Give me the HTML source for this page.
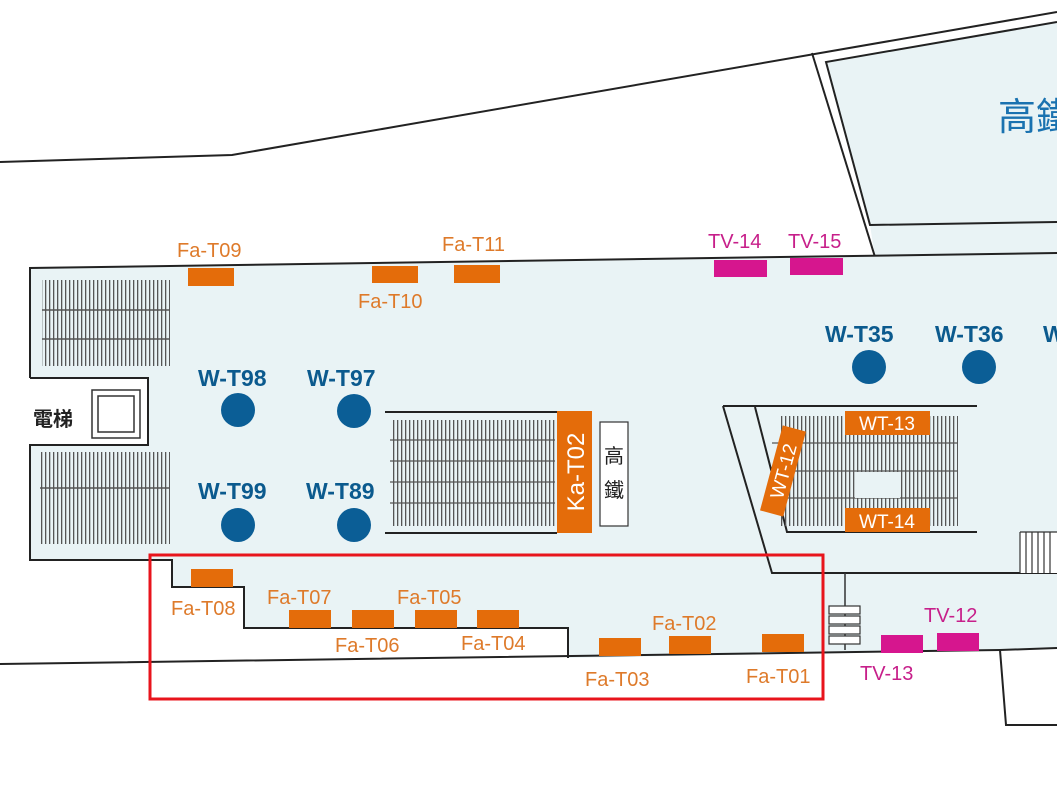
<!DOCTYPE html>
<html><head><meta charset="utf-8"><style>
html,body{margin:0;padding:0;background:#fff;}
svg{display:block;}
text{font-family:"Liberation Sans","Noto Sans CJK TC",sans-serif;}
.o{fill:#e46c0a;} .m{fill:#d6168e;}
.lo{fill:#de7a2a;font-size:20px;} .lm{fill:#c71f8a;font-size:20px;}
.wb{fill:#0b5a8e;font-size:23px;font-weight:bold;}
.ln{stroke:#222;stroke-width:2;fill:none;}
</style></head><body>
<svg width="1057" height="793" viewBox="0 0 1057 793" xmlns="http://www.w3.org/2000/svg">
<defs>
<pattern id="h" width="4" height="200" patternUnits="userSpaceOnUse">
<rect x="1" width="1.3" height="200" fill="#555"/>
</pattern>
</defs>
<!-- building top right -->
<polygon points="826,62 1057,22 1057,258 875,257 870,225" fill="#e9f3f5"/>
<polyline class="ln" points="0,162 232,155 1057,12"/>
<line class="ln" x1="812" y1="53" x2="875" y2="257" stroke-width="1.5"/>
<polyline class="ln" points="1057,22 826,62 870,225 1057,222" stroke-width="1.5"/>
<text x="998" y="130" font-size="38" fill="#1a72b0">高鐵</text>
<!-- main hall -->
<polygon points="30,268 1057,253 1057,648 1000,650 568,658 568,628 244,628 244,587 172,587 172,560 30,560 30,445 148,445 148,378 30,378" fill="#e9f3f5"/>
<polyline class="ln" points="30,378 30,268 1057,253" stroke-width="1.5"/>
<polyline class="ln" stroke-width="1.5" points="30,378 148,378 148,445 30,445 30,560 172,560 172,587 244,587 244,628 568,628 568,658"/>
<polyline class="ln" points="0,664 1000,650 1057,648"/>
<polyline class="ln" stroke-width="1.5" points="1000,650 1006,725 1057,725"/>
<!-- left stairs -->
<rect x="42" y="280" width="128" height="86" fill="url(#h)"/>
<g stroke="#555" stroke-width="1.5"><line x1="42" y1="310" x2="170" y2="310"/><line x1="42" y1="339" x2="170" y2="339"/></g>
<rect x="40" y="452" width="130" height="92" fill="url(#h)"/>
<line x1="40" y1="488" x2="170" y2="488" stroke="#555" stroke-width="1.5"/>
<!-- elevator -->
<rect x="92" y="390" width="48" height="48" fill="#fff" stroke="#333" stroke-width="1.5"/>
<rect x="98" y="396" width="36" height="36" fill="#fff" stroke="#333" stroke-width="1.5"/>
<text x="33" y="426" font-size="20" fill="#222" font-weight="bold">電梯</text>
<!-- center stairs -->
<line class="ln" x1="385" y1="412" x2="557" y2="412" stroke-width="1.5"/>
<line class="ln" x1="385" y1="533" x2="557" y2="533" stroke-width="1.5"/>
<rect x="392" y="420" width="163" height="106" fill="url(#h)"/>
<g stroke="#555" stroke-width="1.2"><line x1="390" y1="440" x2="555" y2="440"/><line x1="390" y1="461" x2="555" y2="461"/><line x1="390" y1="482" x2="555" y2="482"/><line x1="390" y1="503" x2="555" y2="503"/></g>
<rect x="557" y="411" width="35" height="122" class="o"/>
<text transform="translate(584,472) rotate(-90)" text-anchor="middle" font-size="24" fill="#fff">Ka-T02</text>
<rect x="600" y="422" width="28" height="104" fill="#fff" stroke="#333" stroke-width="1.2"/>
<text x="614" y="463" text-anchor="middle" font-size="20" fill="#222">高</text>
<text x="614" y="497" text-anchor="middle" font-size="20" fill="#222">鐵</text>
<!-- circles -->
<g fill="#0b5e96"><circle cx="238" cy="410" r="17"/><circle cx="354" cy="411" r="17"/><circle cx="238" cy="525" r="17"/><circle cx="354" cy="525" r="17"/><circle cx="869" cy="367" r="17"/><circle cx="979" cy="367" r="17"/></g>
<text class="wb" x="198" y="386">W-T98</text><text class="wb" x="307" y="386">W-T97</text>
<text class="wb" x="198" y="499">W-T99</text><text class="wb" x="306" y="499">W-T89</text>
<text class="wb" x="825" y="342">W-T35</text><text class="wb" x="935" y="342">W-T36</text><text class="wb" x="1043" y="342">W</text>
<!-- right escalator -->
<polyline class="ln" stroke-width="1.5" points="723,406 772,573 1057,573"/>
<polyline class="ln" stroke-width="1.5" points="723,406 977,406"/>
<polyline class="ln" stroke-width="1.5" points="755,407 787,532 977,532"/>
<rect x="780" y="416" width="178" height="110" fill="url(#h)"/>
<g stroke="#555" stroke-width="1.2"><line x1="772" y1="443" x2="958" y2="443"/><line x1="772" y1="471" x2="958" y2="471"/><line x1="775" y1="498" x2="958" y2="498"/></g>
<rect x="855" y="472" width="45" height="26" fill="#e9f3f5"/>
<rect x="845" y="411" width="85" height="24" class="o"/><text x="887" y="430" text-anchor="middle" font-size="19" fill="#fff">WT-13</text>
<rect x="845" y="508" width="85" height="24" class="o"/><text x="887" y="528" text-anchor="middle" font-size="19" fill="#fff">WT-14</text>
<g transform="translate(783,471) rotate(-75)"><rect x="-44" y="-12" width="88" height="24" class="o"/><text x="0" y="7" text-anchor="middle" font-size="19" fill="#fff">WT-12</text></g>
<rect x="1020" y="532" width="37" height="41" fill="#fff"/>
<g stroke="#333" stroke-width="1.2"><line x1="1020" y1="532" x2="1020" y2="573"/><line x1="1026" y1="532" x2="1026" y2="573"/><line x1="1032" y1="532" x2="1032" y2="573"/><line x1="1038" y1="532" x2="1038" y2="573"/><line x1="1044" y1="532" x2="1044" y2="573"/><line x1="1050" y1="532" x2="1050" y2="573"/><line x1="1020" y1="532" x2="1057" y2="532"/></g>
<line x1="845" y1="573" x2="845" y2="650" stroke="#333" stroke-width="1.5"/>
<g fill="#fff" stroke="#333" stroke-width="1.2"><rect x="829" y="606" width="31" height="8"/><rect x="829" y="616" width="31" height="8"/><rect x="829" y="626" width="31" height="8"/><rect x="829" y="636" width="31" height="8"/></g>
<!-- bars -->
<rect class="o" x="188" y="268" width="46" height="18"/><rect class="o" x="372" y="266" width="46" height="17"/><rect class="o" x="454" y="265" width="46" height="18"/>
<rect class="m" x="714" y="260" width="53" height="17"/><rect class="m" x="790" y="258" width="53" height="17"/>
<rect class="o" x="191" y="569" width="42" height="18"/>
<rect class="o" x="289" y="610" width="42" height="18"/><rect class="o" x="352" y="610" width="42" height="18"/><rect class="o" x="415" y="610" width="42" height="18"/><rect class="o" x="477" y="610" width="42" height="18"/>
<rect class="o" x="599" y="638" width="42" height="18"/><rect class="o" x="669" y="636" width="42" height="18"/><rect class="o" x="762" y="634" width="42" height="18"/>
<rect class="m" x="881" y="635" width="42" height="18"/><rect class="m" x="937" y="633" width="42" height="18"/>
<!-- labels -->
<text class="lo" x="177" y="257">Fa-T09</text><text class="lo" x="358" y="308">Fa-T10</text><text class="lo" x="442" y="251">Fa-T11</text>
<text class="lm" x="708" y="248">TV-14</text><text class="lm" x="788" y="248">TV-15</text>
<text class="lo" x="171" y="615">Fa-T08</text><text class="lo" x="267" y="604">Fa-T07</text><text class="lo" x="335" y="652">Fa-T06</text>
<text class="lo" x="397" y="604">Fa-T05</text><text class="lo" x="461" y="650">Fa-T04</text>
<text class="lo" x="585" y="686">Fa-T03</text><text class="lo" x="652" y="630">Fa-T02</text><text class="lo" x="746" y="683">Fa-T01</text>
<text class="lm" x="860" y="680">TV-13</text><text class="lm" x="924" y="622">TV-12</text>
<!-- red box -->
<rect x="150" y="555" width="673" height="144" fill="none" stroke="#e8141c" stroke-width="3"/>
</svg>
</body></html>
